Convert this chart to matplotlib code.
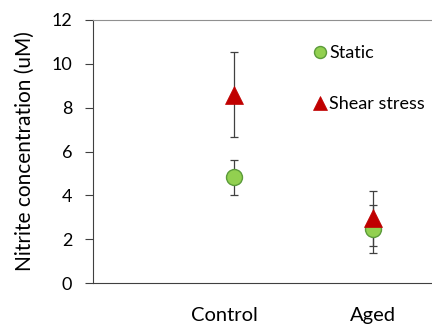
import matplotlib
matplotlib.use("Agg")
import matplotlib.pyplot as plt
from matplotlib.transforms import ScaledTranslation

categories = ["Control", "Aged"]
static_vals = [4.83, 2.45]
static_err = [0.8, 1.1]
shear_vals = [8.6, 2.95]
shear_err = [1.95, 1.25]
yticks = [0, 2, 4, 6, 8, 10, 12]

plt.rcParams['font.family'] = ['Lato', 'DejaVu Sans']

fig = plt.figure(figsize=(4.32, 3.26), dpi=100)
ax = fig.add_axes([93/432, 1-283/326, 1-93/432, (283-20)/326])

x = [1, 2]
ax.errorbar(x, shear_vals, yerr=shear_err, fmt='none', ecolor='#404040',
            elinewidth=0.9, capsize=3, capthick=0.9, zorder=2)
ax.errorbar(x, static_vals, yerr=static_err, fmt='none', ecolor='#404040',
            elinewidth=0.9, capsize=3, capthick=0.9, zorder=2)
ax.plot(x, static_vals, 'o', ms=11.5, mfc='#92D050', mec='#5B9B3A', mew=1.0,
        linestyle='none', zorder=3, label='Static')
ax.plot(x, shear_vals, '^', ms=13.5, mfc='#C00000', mec='#C00000', mew=0.5,
        linestyle='none', zorder=4, label='Shear stress')

ax.set_xlim(1 - 141/139, 1 + (432-234)/139)
ax.set_ylim(0, 12)
ax.set_yticks(yticks)
ax.set_xticks(x)
ax.set_xticklabels(categories)
ax.tick_params(axis='x', length=0, pad=17, labelsize=14.5)
ax.tick_params(axis='y', length=6, width=0.8, color='#404040', labelsize=13, pad=9)
labs = ax.get_xticklabels()
labs[0].set_transform(labs[0].get_transform() + ScaledTranslation(-10/100, 0, fig.dpi_scale_trans))
ax.spines['right'].set_visible(False)
ax.spines['top'].set_color('#909090')
ax.spines['left'].set_color('#404040')
ax.spines['bottom'].set_color('#404040')
ax.set_ylabel("Nitrite concentration (uM)", fontsize=15, labelpad=12)

leg = ax.legend(loc='upper left', bbox_to_anchor=((304-93)/339, 1-(38-20)/263),
                frameon=False, fontsize=13, handletextpad=0.0, labelspacing=1.95,
                handlelength=1.0, borderaxespad=0, markerscale=0.75)

fig.savefig("out.png", dpi=100)
